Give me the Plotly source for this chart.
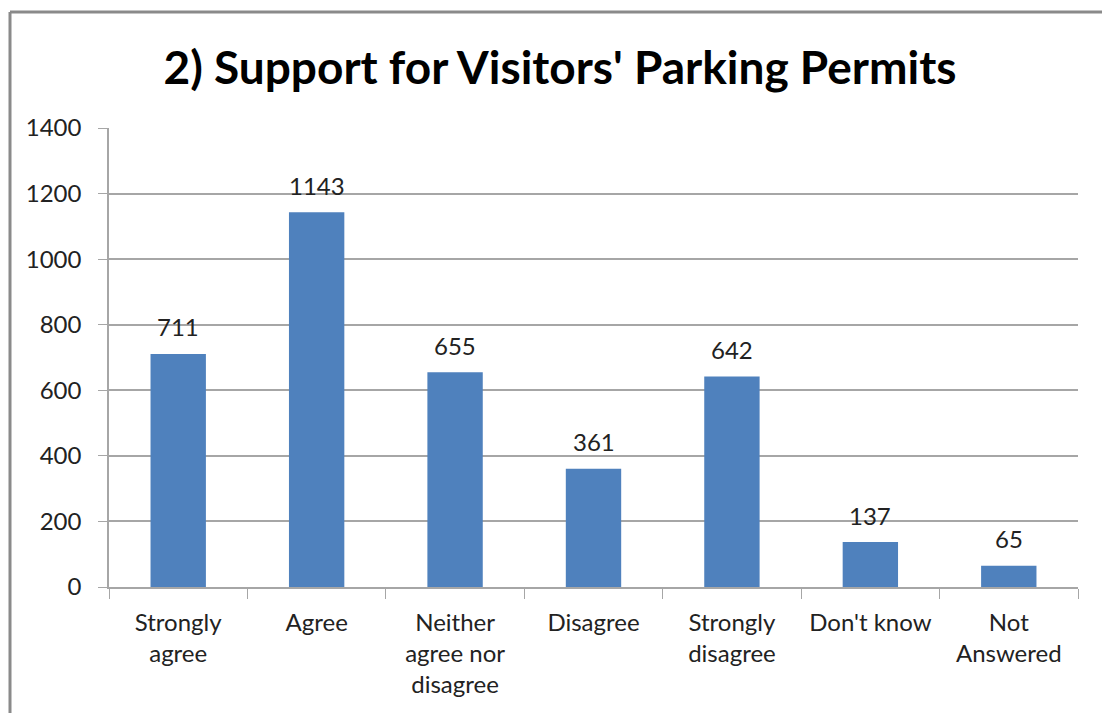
import plotly.graph_objects as go

categories = ["Strongly<br>agree", "Agree", "Neither<br>agree nor<br>disagree", "Disagree",
              "Strongly<br>disagree", "Don't know", "Not<br>Answered"]
responses = [711, 1143, 655, 361, 642, 137, 65]
y_ticks = [0, 200, 400, 600, 800, 1000, 1200, 1400]

W, H = 1102, 713
L, R, T, B = 109, 24, 128, 126
pw, ph = W - L - R, H - T - B

font_family = "Lato, 'Open Sans', sans-serif"
bar_color = "#4F81BD"
grid_color = "#A6A6A6"
text_color = "#222222"
frame_color = "#8A8A8A"

fig = go.Figure()
fig.add_trace(go.Bar(
    x=categories, y=responses,
    marker=dict(color=bar_color, line=dict(width=0)),
    hoverinfo="skip",
))

# value labels above each bar
for c, v in zip(categories, responses):
    fig.add_annotation(x=c, y=v, text=str(v), showarrow=False,
                       yanchor="middle", yshift=27,
                       font=dict(family=font_family, size=24, color=text_color))

# outer frame: left and top edges of the chart area
fx0 = (10 - L) / pw
fy1 = 1 + (T - 12) / ph
fig.add_shape(type="line", xref="paper", yref="paper",
              x0=fx0, x1=fx0, y0=-(H - T - ph) / ph - 0.05, y1=fy1,
              line=dict(color=frame_color, width=3), layer="below")
fig.add_shape(type="line", xref="paper", yref="paper",
              x0=fx0, x1=(W - L) / pw + 0.05, y0=fy1, y1=fy1,
              line=dict(color=frame_color, width=3), layer="below")

fig.update_layout(
    width=W, height=H,
    margin=dict(l=L, r=R, t=T, b=B),
    paper_bgcolor="white", plot_bgcolor="white",
    bargap=0.6,
    showlegend=False,
    title=dict(text="<b>2) Support for Visitors' Parking Permits</b>",
               x=560 / W, xanchor="center", y=1 - 68 / H, yanchor="middle",
               font=dict(family=font_family, size=46, color="#000000")),
    font=dict(family=font_family, size=24, color=text_color),
)
fig.update_xaxes(
    showgrid=False, showline=True, linecolor=grid_color, linewidth=1.5,
    ticks="outside", tickson="boundaries", ticklen=10, tickcolor=grid_color,
    ticklabelstandoff=13,
    tickfont=dict(family=font_family, size=24, color=text_color),
)
fig.update_yaxes(
    range=[0, 1400], tickvals=y_ticks, showgrid=True, gridcolor=grid_color, gridwidth=1.5,
    showline=True, linecolor=grid_color, linewidth=1.5, zeroline=False,
    ticks="outside", ticklen=9, tickcolor=grid_color,
    ticklabelstandoff=12,
    tickfont=dict(family=font_family, size=24, color=text_color),
)

fig.write_html("out.html")
